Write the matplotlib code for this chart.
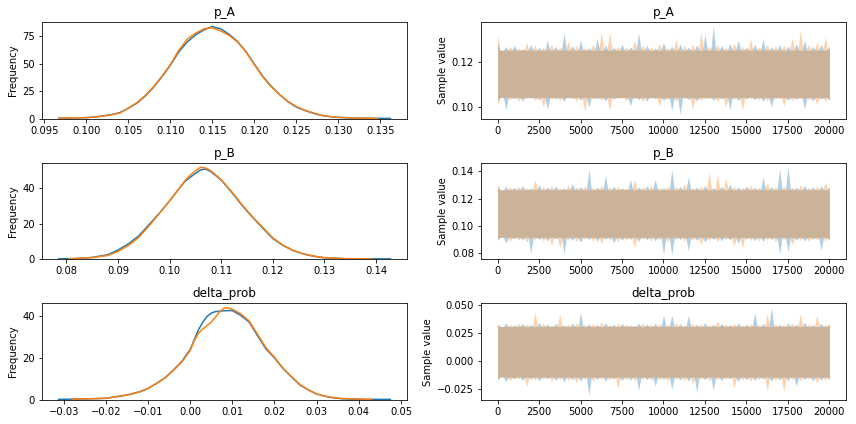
import numpy as np
import matplotlib
matplotlib.use("Agg")
import matplotlib.pyplot as plt

# ---- posterior density, two chains ----
pA_x_c0 = [0.0967, 0.098, 0.100, 0.101, 0.102, 0.103, 0.104, 0.105, 0.106, 0.107, 0.108, 0.109,
           0.110, 0.111, 0.112, 0.113, 0.114, 0.115, 0.116, 0.117, 0.118, 0.119, 0.120, 0.121,
           0.122, 0.123, 0.124, 0.125, 0.126, 0.127, 0.128, 0.129, 0.130, 0.132, 0.134, 0.1362]
pA_y_c0 = [0.4, 0.7, 1.0, 1.6, 2.6, 3.8, 5.6, 9.5, 14.0, 20.5, 28.5, 38.0,
           48.5, 60.5, 69.5, 76.0, 80.5, 83.5, 81.5, 76.5, 70.0, 61.0, 49.5, 38.5,
           29.5, 22.0, 15.5, 10.5, 7.5, 5.0, 3.0, 1.9, 1.2, 0.6, 0.4, 0.3]
pA_x_c1 = [0.0967, 0.098, 0.100, 0.101, 0.102, 0.103, 0.104, 0.105, 0.106, 0.107, 0.108, 0.109,
           0.110, 0.111, 0.112, 0.113, 0.114, 0.115, 0.116, 0.117, 0.118, 0.119, 0.120, 0.121,
           0.122, 0.123, 0.124, 0.125, 0.126, 0.127, 0.128, 0.129, 0.130, 0.132, 0.1347]
pA_y_c1 = [0.4, 0.7, 1.0, 1.5, 2.4, 3.6, 5.2, 9.8, 14.5, 21.0, 29.0, 38.5,
           49.0, 62.0, 72.0, 77.5, 81.5, 82.5, 79.5, 75.5, 69.5, 60.5, 49.0, 38.0,
           29.0, 22.0, 15.8, 11.0, 7.8, 5.4, 3.2, 2.0, 1.3, 0.6, 0.3]

pB_x_c0 = [0.0785, 0.082, 0.085, 0.088, 0.090, 0.092, 0.094, 0.096, 0.098, 0.100, 0.102, 0.103,
           0.104, 0.105, 0.106, 0.107, 0.108, 0.110, 0.112, 0.114, 0.116, 0.118, 0.120, 0.122,
           0.124, 0.126, 0.128, 0.130, 0.134, 0.138, 0.1428]
pB_y_c0 = [0.3, 0.5, 1.1, 2.6, 5.3, 8.7, 13.2, 19.5, 26.0, 33.0, 40.5, 44.0,
           46.3, 48.5, 50.5, 51.0, 49.5, 44.8, 38.0, 30.6, 24.0, 17.8, 11.8, 7.8,
           4.9, 3.0, 1.7, 0.9, 0.4, 0.3, 0.3]
pB_x_c1 = [0.0805, 0.085, 0.088, 0.090, 0.092, 0.094, 0.096, 0.098, 0.100, 0.102, 0.103, 0.104,
           0.105, 0.106, 0.107, 0.108, 0.110, 0.112, 0.114, 0.116, 0.118, 0.120, 0.122, 0.124,
           0.126, 0.128, 0.130, 0.134, 0.139]
pB_y_c1 = [0.3, 1.0, 2.2, 4.5, 7.8, 12.3, 18.8, 25.8, 33.0, 40.5, 44.5, 47.5,
           50.0, 52.0, 51.5, 50.0, 45.0, 38.3, 31.0, 24.3, 18.2, 12.2, 8.0, 5.0,
           3.1, 1.8, 1.0, 0.4, 0.3]

dp_x_c0 = [-0.0312, -0.025, -0.020, -0.015, -0.012, -0.010, -0.008, -0.006, -0.004, -0.002,
           0.000, 0.001, 0.002, 0.003, 0.004, 0.005, 0.006, 0.007, 0.008, 0.009, 0.010,
           0.012, 0.014, 0.016, 0.018, 0.020, 0.022, 0.024, 0.026, 0.028, 0.030, 0.033,
           0.036, 0.040, 0.0475]
dp_y_c0 = [0.3, 0.5, 0.8, 2.4, 3.9, 5.5, 7.9, 10.5, 14.2, 18.3,
           24.0, 28.8, 33.5, 37.0, 39.7, 41.3, 42.0, 42.2, 42.4, 42.5, 42.5,
           40.2, 37.0, 30.5, 24.2, 20.0, 15.0, 11.0, 7.2, 4.8, 2.8, 1.3,
           0.6, 0.3, 0.3]
dp_x_c1 = [-0.028, -0.020, -0.015, -0.012, -0.010, -0.008, -0.006, -0.004, -0.002,
           0.000, 0.001, 0.002, 0.003, 0.004, 0.005, 0.006, 0.007, 0.008, 0.009, 0.010,
           0.012, 0.014, 0.016, 0.018, 0.020, 0.022, 0.024, 0.026, 0.028, 0.030, 0.033,
           0.036, 0.043]
dp_y_c1 = [0.4, 0.8, 2.3, 3.8, 5.4, 7.8, 10.4, 14.0, 18.0,
           23.5, 28.3, 31.8, 33.8, 35.4, 37.0, 39.4, 42.0, 43.6, 43.8, 43.1,
           41.0, 37.5, 31.2, 24.8, 20.3, 15.2, 11.2, 7.4, 4.9, 2.9, 1.4,
           0.7, 0.3]

# ---- trace: max / min of the samples in each 500-draw window ----
draws = np.arange(0, 20001, 500)

pA_hi_c0 = [0.1285, 0.1270, 0.1278, 0.1262, 0.1281, 0.1268, 0.1300, 0.1272, 0.1331, 0.1275, 0.1300,
            0.1266, 0.1305, 0.1279, 0.1268, 0.1284, 0.1271, 0.1331, 0.1277, 0.1265, 0.1290,
            0.1273, 0.1282, 0.1268, 0.1279, 0.1325, 0.1362, 0.1276, 0.1285, 0.1300, 0.1270,
            0.1283, 0.1305, 0.1269, 0.1280, 0.1274, 0.1286, 0.1300, 0.1272, 0.1281, 0.1275]
pA_lo_c0 = [0.1030, 0.0988, 0.1038, 0.1027, 0.1040, 0.1032, 0.0990, 0.1036, 0.1025, 0.1039, 0.1031,
            0.1000, 0.1037, 0.1028, 0.1035, 0.1041, 0.1005, 0.1033, 0.1026, 0.1038, 0.1030,
            0.0985, 0.0967, 0.1034, 0.1027, 0.1040, 0.1031, 0.1036, 0.0988, 0.1029, 0.1037,
            0.1033, 0.1026, 0.1000, 0.1039, 0.1030, 0.1035, 0.0990, 0.1028, 0.1036, 0.1032]
pA_hi_c1 = [0.1324, 0.1272, 0.1265, 0.1290, 0.1276, 0.1268, 0.1281, 0.1270, 0.1295, 0.1277, 0.1266,
            0.1283, 0.1338, 0.1335, 0.1274, 0.1269, 0.1300, 0.1278, 0.1271, 0.1285, 0.1267,
            0.1305, 0.1276, 0.1282, 0.1336, 0.1273, 0.1280, 0.1268, 0.1287, 0.1274, 0.1305,
            0.1270, 0.1284, 0.1276, 0.1279, 0.1310, 0.1345, 0.1281, 0.1292, 0.1315, 0.1270]
pA_lo_c1 = [0.1010, 0.1033, 0.1027, 0.1038, 0.1030, 0.1000, 0.1036, 0.1029, 0.1040, 0.1026, 0.0981,
            0.1034, 0.1031, 0.0983, 0.1037, 0.1028, 0.1035, 0.1024, 0.1039, 0.1005, 0.1032,
            0.1027, 0.1038, 0.0990, 0.1030, 0.1036, 0.1025, 0.1000, 0.1034, 0.0988, 0.1039,
            0.1031, 0.1027, 0.1035, 0.1005, 0.1029, 0.1037, 0.1032, 0.1010, 0.1028, 0.1036]

pB_hi_c0 = [0.1300, 0.1290, 0.1282, 0.1295, 0.1278, 0.1301, 0.1285, 0.1292, 0.1280, 0.1310, 0.1288,
            0.1415, 0.1283, 0.1370, 0.1290, 0.1279, 0.1340, 0.1287, 0.1294, 0.1340, 0.1281,
            0.1415, 0.1289, 0.1360, 0.1284, 0.1297, 0.1280, 0.1291, 0.1305, 0.1286, 0.1293,
            0.1282, 0.1360, 0.1289, 0.1419, 0.1432, 0.1284, 0.1298, 0.1287, 0.1292, 0.1283]
pB_lo_c0 = [0.0890, 0.0870, 0.0905, 0.0895, 0.0797, 0.0900, 0.0888, 0.0903, 0.0795, 0.0892, 0.0880,
            0.0899, 0.0887, 0.0902, 0.0875, 0.0894, 0.0901, 0.0885, 0.0897, 0.0890, 0.0790,
            0.0785, 0.0898, 0.0815, 0.0893, 0.0880, 0.0900, 0.0889, 0.0896, 0.0870, 0.0902,
            0.0891, 0.0885, 0.0899, 0.0790, 0.0806, 0.0894, 0.0888, 0.0901, 0.0820, 0.0897]
pB_hi_c1 = [0.1296, 0.1284, 0.1291, 0.1280, 0.1339, 0.1287, 0.1293, 0.1279, 0.1300, 0.1286, 0.1292,
            0.1281, 0.1298, 0.1285, 0.1290, 0.1278, 0.1340, 0.1288, 0.1294, 0.1283, 0.1296,
            0.1286, 0.1310, 0.1281, 0.1292, 0.1395, 0.1380, 0.1350, 0.1289, 0.1284, 0.1297,
            0.1282, 0.1320, 0.1288, 0.1293, 0.1285, 0.1300, 0.1283, 0.1291, 0.1320, 0.1286]
pB_lo_c1 = [0.0900, 0.0885, 0.0893, 0.0880, 0.0898, 0.0888, 0.0860, 0.0836, 0.0895, 0.0884, 0.0901,
            0.0889, 0.0870, 0.0896, 0.0883, 0.0892, 0.0840, 0.0899, 0.0887, 0.0894, 0.0881,
            0.0897, 0.0886, 0.0893, 0.0860, 0.0890, 0.0884, 0.0898, 0.0850, 0.0836, 0.0891,
            0.0887, 0.0895, 0.0882, 0.0899, 0.0860, 0.0892, 0.0885, 0.0897, 0.0888, 0.0893]

dp_hi_c0 = [0.0330, 0.0342, 0.0325, 0.0336, 0.0328, 0.0345, 0.0331, 0.0338, 0.0326, 0.0340, 0.0432,
            0.0334, 0.0327, 0.0343, 0.0329, 0.0337, 0.0324, 0.0341, 0.0333, 0.0339, 0.0410,
            0.0410, 0.0335, 0.0410, 0.0330, 0.0344, 0.0328, 0.0338, 0.0326, 0.0340, 0.0332,
            0.0430, 0.0336, 0.0478, 0.0329, 0.0342, 0.0331, 0.0350, 0.0327, 0.0339, 0.0333]
dp_lo_c0 = [-0.0165, -0.0180, -0.0158, -0.0172, -0.0160, -0.0176, -0.0155, -0.0169, -0.0182, -0.0163,
            -0.0174, -0.0305, -0.0161, -0.0178, -0.0157, -0.0170, -0.0166, -0.0258, -0.0162, -0.0220,
            -0.0159, -0.0250, -0.0168, -0.0175, -0.0273, -0.0164, -0.0260, -0.0171, -0.0156, -0.0179,
            -0.0163, -0.0169, -0.0158, -0.0177, -0.0165, -0.0172, -0.0220, -0.0160, -0.0175, -0.0167,
            -0.0161]
dp_hi_c1 = [0.0335, 0.0327, 0.0341, 0.0330, 0.0437, 0.0338, 0.0325, 0.0420, 0.0332, 0.0344, 0.0329,
            0.0336, 0.0350, 0.0328, 0.0340, 0.0333, 0.0326, 0.0343, 0.0331, 0.0337, 0.0330,
            0.0345, 0.0327, 0.0339, 0.0334, 0.0328, 0.0360, 0.0332, 0.0341, 0.0326, 0.0338,
            0.0330, 0.0424, 0.0335, 0.0329, 0.0344, 0.0420, 0.0333, 0.0410, 0.0331, 0.0337]
dp_lo_c1 = [-0.0160, -0.0172, -0.0155, -0.0226, -0.0168, -0.0158, -0.0177, -0.0163, -0.0170, -0.0190,
            -0.0161, -0.0174, -0.0157, -0.0166, -0.0240, -0.0162, -0.0175, -0.0159, -0.0169, -0.0164,
            -0.0178, -0.0156, -0.0171, -0.0200, -0.0160, -0.0173, -0.0165, -0.0158, -0.0240, -0.0167,
            -0.0176, -0.0162, -0.0260, -0.0170, -0.0270, -0.0163, -0.0172, -0.0159, -0.0195, -0.0166,
            -0.0161]

# edge of the solid (dense) part of each trace: (low, high)
pA_core = (0.1043, 0.1255)
pB_core = (0.0915, 0.1265)
dp_core = (-0.0140, 0.0310)

varnames = ["p_A", "p_B", "delta_prob"]
kde = {
    "p_A": [(pA_x_c0, pA_y_c0), (pA_x_c1, pA_y_c1)],
    "p_B": [(pB_x_c0, pB_y_c0), (pB_x_c1, pB_y_c1)],
    "delta_prob": [(dp_x_c0, dp_y_c0), (dp_x_c1, dp_y_c1)],
}
trace = {
    "p_A": [(pA_lo_c0, pA_hi_c0), (pA_lo_c1, pA_hi_c1)],
    "p_B": [(pB_lo_c0, pB_hi_c0), (pB_lo_c1, pB_hi_c1)],
    "delta_prob": [(dp_lo_c0, dp_hi_c0), (dp_lo_c1, dp_hi_c1)],
}
core = {"p_A": pA_core, "p_B": pB_core, "delta_prob": dp_core}
colors = ["C0", "C1"]


def spiky(values, base, shift):
    # window extremes as thin spikes, dense-band edge in between
    step = draws[1] - draws[0]
    xs, ys = [], []
    for j, (d, val) in enumerate(zip(draws, values)):
        d = min(d + shift, draws[-1]) if 0 < j < len(draws) - 1 else d
        xs += [d - step * 0.3, d, d + step * 0.3]
        ys += [base, val, base]
    xs = np.clip(xs, draws[0], draws[-1])
    return np.array(xs), np.array(ys)


fig, ax = plt.subplots(3, 2, figsize=(856 / 72, 424 / 72), dpi=72, squeeze=False)
fig.subplots_adjust(left=0.0491, right=0.9883, top=0.9481, bottom=0.0566,
                    wspace=0.2027, hspace=0.4536)

for i, v in enumerate(varnames):
    # density
    for (xs, ys), c in zip(kde[v], colors):
        ax[i, 0].plot(xs, ys, color=c, lw=1.5)
    ax[i, 0].set_ylim(bottom=0)
    ax[i, 0].set_title(v)
    ax[i, 0].set_ylabel("Frequency")

    # trace
    lo_edge, hi_edge = core[v]
    for k, ((lo, hi), c) in enumerate(zip(trace[v], colors)):
        shift = 250 * k
        xs, top = spiky(hi, hi_edge, shift)
        _, bot = spiky(lo, lo_edge, shift)
        ax[i, 1].fill_between(xs, bot, top, color=c, alpha=0.35, lw=0)
    ax[i, 1].set_title(v)
    ax[i, 1].set_ylabel("Sample value")

plt.savefig("out.png", dpi=72)
